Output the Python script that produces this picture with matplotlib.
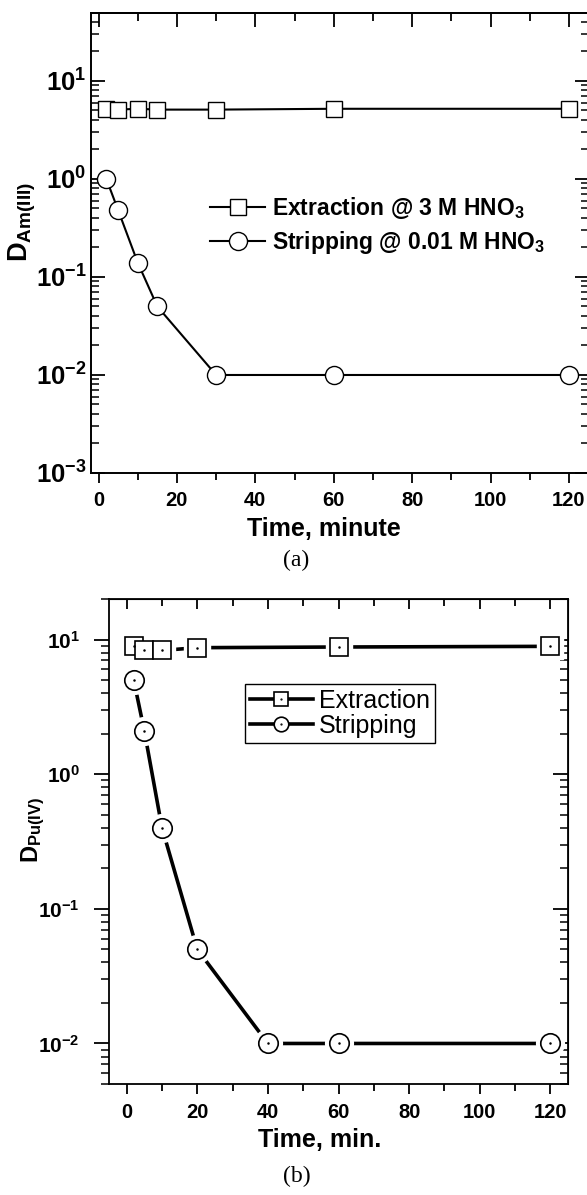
import matplotlib
matplotlib.use('Agg')
import matplotlib.pyplot as plt
from matplotlib.ticker import MultipleLocator, LogLocator, NullFormatter
from matplotlib.legend_handler import HandlerTuple
import numpy as np

plt.rcParams['font.family'] = 'Liberation Sans'
plt.rcParams['font.weight'] = 'bold'
plt.rcParams['mathtext.fontset'] = 'custom'
plt.rcParams['mathtext.rm'] = 'Liberation Sans:bold'
plt.rcParams['mathtext.bf'] = 'Liberation Sans:bold'
plt.rcParams['mathtext.it'] = 'Liberation Sans:bold:italic'

# panel (a) - Am(III)
time_a = [2, 5, 10, 15, 30, 60, 120]
ext_a = [5.2, 5.1, 5.2, 5.1, 5.1, 5.2, 5.2]
strip_a = [1.0, 0.48, 0.14, 0.05, 0.01, 0.01, 0.01]

# panel (b) - Pu(IV)
time_b_ext = [2, 5, 10, 20, 60, 120]
ext_b = [8.9, 8.4, 8.3, 8.7, 8.8, 8.9]
time_b_strip = [2, 5, 10, 20, 40, 60, 120]
strip_b = [5.0, 2.1, 0.40, 0.05, 0.01, 0.01, 0.01]

W, H = 587, 1195
fig = plt.figure(figsize=(W / 100, H / 100), dpi=100)


def box(l, t, r, b):
    return [l / W, 1 - b / H, (r - l) / W, (b - t) / H]


def fx(x):
    return x / W


def fy(y):
    return 1 - y / H


# ---------------- (a) ----------------
ax1 = fig.add_axes(box(90.7, 13.3, 588.5, 473))
ax1.plot(time_a, ext_a, color='k', lw=1.5, marker='s', ms=11, mfc='white',
         mec='k', mew=1.0, label=r'Extraction @ 3 M HNO$_3$')
ax1.plot(time_a, strip_a, color='k', lw=1.5, marker='o', ms=13, mfc='white',
         mec='k', mew=1.0, label=r'Stripping @ 0.01 M HNO$_3$')
ax1.set_yscale('log')
ax1.set_xlim(-2, 125)
ax1.set_ylim(1e-3, 49)
for s in ax1.spines.values():
    s.set_linewidth(1.4)
ax1.xaxis.set_major_locator(MultipleLocator(20))
ax1.xaxis.set_minor_locator(MultipleLocator(10))
ax1.yaxis.set_major_locator(LogLocator(base=10, numticks=15))
ax1.yaxis.set_minor_locator(LogLocator(base=10, subs=np.arange(2, 10), numticks=15))
ax1.yaxis.set_minor_formatter(NullFormatter())
ax1.tick_params(axis='x', which='major', direction='out', length=7, width=1.3,
                pad=6, labelsize=14.5, top=False)
ax1.tick_params(axis='x', which='minor', direction='out', length=5, width=1.3, top=False)
ax1.tick_params(axis='y', which='major', direction='in', length=10, width=1.3,
                right=True, pad=3, labelsize=18.5)
ax1.tick_params(axis='y', which='minor', direction='in', length=6, width=1.1, right=True)
top1 = ax1.secondary_xaxis('top')
top1.xaxis.set_major_locator(MultipleLocator(20))
top1.xaxis.set_minor_locator(MultipleLocator(10))
top1.tick_params(which='major', direction='in', length=10, width=1.3, labeltop=False)
top1.tick_params(which='minor', direction='in', length=6, width=1.3)
top1.spines['top'].set_linewidth(1.4)

ax1.legend(loc='center left', bbox_to_anchor=(fx(210), fy(225.3)),
           bbox_transform=fig.transFigure, frameon=False, fontsize=16.5,
           handlelength=2.4, handletextpad=0.3, labelspacing=0.35,
           borderpad=0, borderaxespad=0)

fig.text(fx(22), fy(222), r'$\mathbf{D}_{\mathbf{Am(III)}}$', rotation=90,
         ha='center', va='center', fontsize=19.5)
fig.text(fx(324), fy(536), 'Time, minute', ha='center', va='baseline', fontsize=18)
fig.text(fx(296), fy(560), '(a)', ha='center', va='center', fontsize=17,
         family='Liberation Serif', weight='normal')

# ---------------- (b) ----------------
ax2 = fig.add_axes(box(109, 599, 568, 1084))
l_ext, = ax2.plot(time_b_ext, ext_b, color='k', lw=2.6, marker='s', ms=13,
                  mfc='white', mec='k', mew=1.2, zorder=2)
l_str, = ax2.plot(time_b_strip, strip_b, color='k', lw=2.6, marker='o', ms=14,
                  mfc='white', mec='k', mew=1.2, zorder=2)
# white halos leave the small gaps between line and marker
ax2.plot(time_b_ext, ext_b, ls='none', marker='s', ms=19, mfc='white', mec='white', zorder=3)
ax2.plot(time_b_strip, strip_b, ls='none', marker='o', ms=20, mfc='white', mec='white', zorder=3)
ax2.plot(time_b_ext, ext_b, ls='none', marker='s', ms=13, mfc='white', mec='k', mew=1.2, zorder=4)
ax2.plot(time_b_strip, strip_b, ls='none', marker='o', ms=14, mfc='white', mec='k', mew=1.2, zorder=4)
d_ext, = ax2.plot(time_b_ext, ext_b, ls='none', marker='.', ms=1.6, color='k', zorder=5)
d_str, = ax2.plot(time_b_strip, strip_b, ls='none', marker='.', ms=1.6, color='k', zorder=5)

ax2.set_yscale('log')
ax2.set_xlim(-5, 125)
ax2.set_ylim(0.005, 20)
for s in ax2.spines.values():
    s.set_linewidth(1.3)
ax2.xaxis.set_major_locator(MultipleLocator(20))
ax2.xaxis.set_minor_locator(MultipleLocator(10))
ax2.yaxis.set_major_locator(LogLocator(base=10, numticks=15))
ax2.yaxis.set_minor_locator(LogLocator(base=10, subs=np.arange(2, 10), numticks=15))
ax2.yaxis.set_minor_formatter(NullFormatter())
ax2.tick_params(axis='x', which='major', direction='out', length=7, width=1.3,
                pad=7, labelsize=14.5, top=False)
ax2.tick_params(axis='x', which='minor', direction='out', length=5, width=1.3, top=False)
ax2.tick_params(axis='y', which='major', direction='out', length=11, width=1.3,
                pad=10, labelsize=15, right=False)
ax2.tick_params(axis='y', which='minor', direction='out', length=6, width=1.1, right=False)
top2 = ax2.secondary_xaxis('top')
top2.xaxis.set_major_locator(MultipleLocator(20))
top2.xaxis.set_minor_locator(MultipleLocator(10))
top2.tick_params(which='major', direction='in', length=7, width=1.3, labeltop=False)
top2.tick_params(which='minor', direction='in', length=5, width=1.3)
right2 = ax2.secondary_yaxis('right')
right2.yaxis.set_major_locator(LogLocator(base=10, numticks=15))
right2.yaxis.set_minor_locator(LogLocator(base=10, subs=np.arange(2, 10), numticks=15))
right2.tick_params(which='major', direction='in', length=11, width=1.3, labelright=False)
right2.tick_params(which='minor', direction='in', length=6, width=1.1, labelright=False)

leg = ax2.legend([(l_ext, d_ext), (l_str, d_str)], ['Extraction', 'Stripping'],
                 handler_map={tuple: HandlerTuple(ndivide=1)},
                 loc='center', bbox_to_anchor=(fx(340), fy(713.3)),
                 bbox_transform=fig.transFigure,
                 prop={'family': 'Liberation Sans', 'weight': 'normal', 'size': 18},
                 handlelength=2.5, handletextpad=0.25, labelspacing=0.05,
                 borderpad=0.2, fancybox=False, edgecolor='k', framealpha=1,
                 markerscale=0.75)
leg.get_frame().set_linewidth(1.0)

fig.text(fx(33), fy(830), r'$\mathbf{D}_{\mathbf{Pu(IV)}}$', rotation=90,
         ha='center', va='center', fontsize=17)
fig.text(fx(320), fy(1146.7), 'Time, min.', ha='center', va='baseline', fontsize=18)
fig.text(fx(297), fy(1176), '(b)', ha='center', va='center', fontsize=17,
         family='Liberation Serif', weight='normal')

fig.savefig('out.png', dpi=100)
